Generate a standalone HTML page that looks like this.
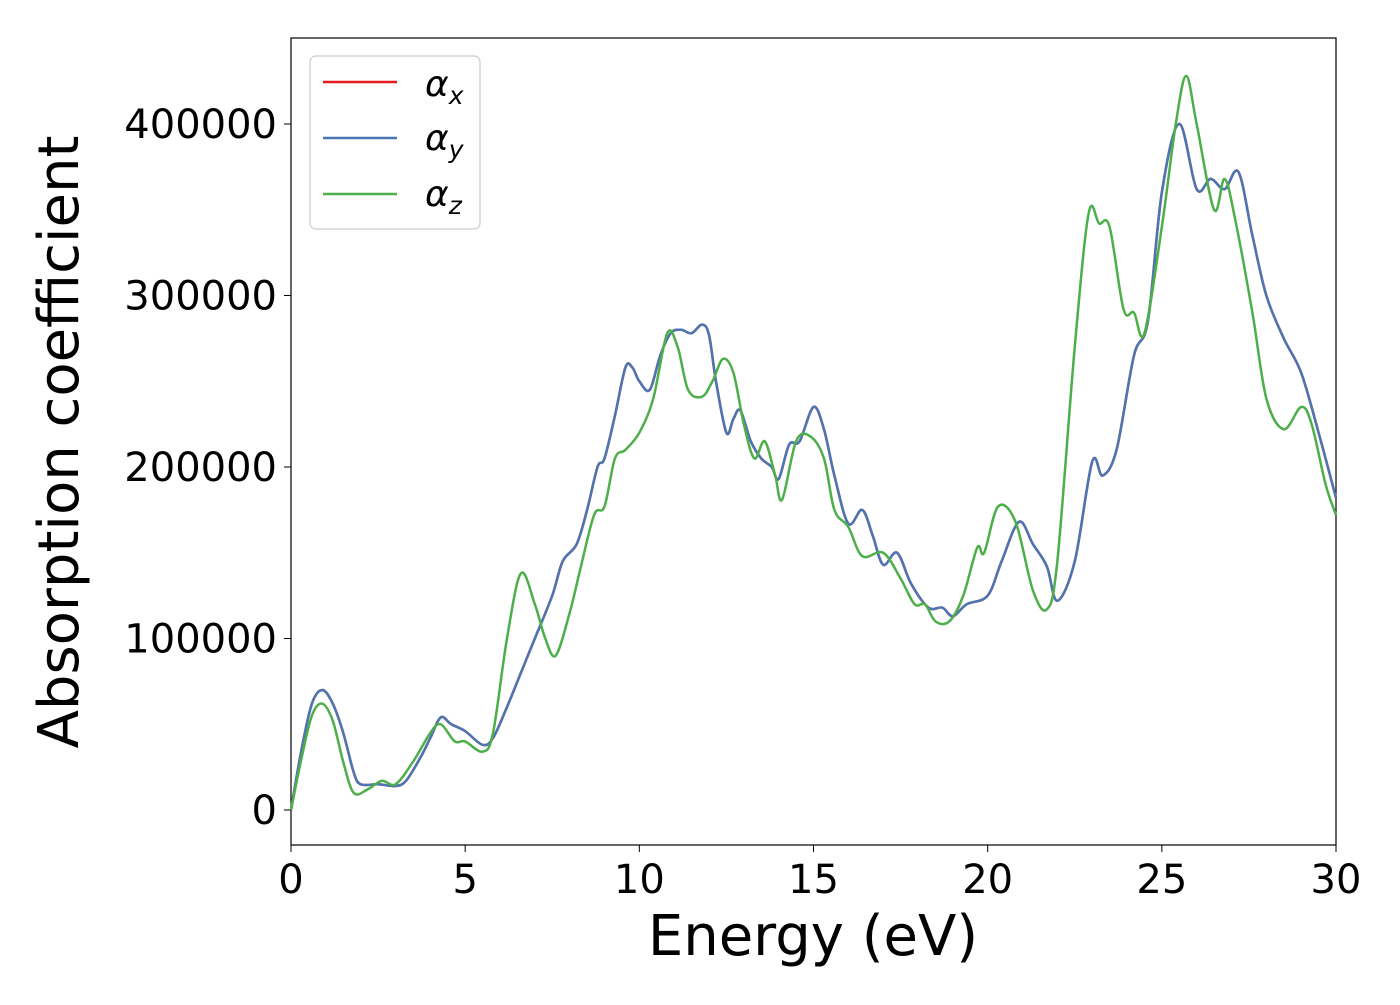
<!DOCTYPE html>
<html><head><meta charset="utf-8"><style>
body{margin:0;background:#fff}
svg text{font-family:"DejaVu Sans","Liberation Sans",sans-serif;fill:#000}
</style></head><body>
<svg id="chart" width="1400" height="1000" xmlns="http://www.w3.org/2000/svg">
<rect x="291" y="38" width="1045" height="807" fill="#fff" stroke="#000" stroke-width="1.2"/>
<g id="xticks"></g>
<g id="yticks"></g>
<g id="series"></g>
<text x="813" y="955" font-size="56" text-anchor="middle">Energy (eV)</text>
<text transform="translate(78,442) rotate(-90)" font-size="56" text-anchor="middle">Absorption coefficient</text>
<g>
<rect x="310" y="56" width="170" height="173" rx="6" fill="#fff" stroke="#ccc" stroke-width="1.2"/>
<line x1="323" y1="82" x2="397" y2="82" stroke="#e41a1c" stroke-width="2.5"/>
<text x="425" y="96" font-size="36" font-style="italic">α<tspan font-size="25" dy="8">x</tspan></text>
<line x1="323" y1="138" x2="397" y2="138" stroke="#4a77b4" stroke-width="2.5"/>
<text x="425" y="150" font-size="36" font-style="italic">α<tspan font-size="25" dy="8">y</tspan></text>
<line x1="323" y1="194" x2="397" y2="194" stroke="#4daf4a" stroke-width="2.5"/>
<text x="425" y="206" font-size="36" font-style="italic">α<tspan font-size="25" dy="8">z</tspan></text>
</g>
</svg>
<script>
const xTicks=[0,5,10,15,20,25,30];
const yTicks=[0,100000,200000,300000,400000];
const energyXY=[0,0.3,0.6,0.9,1.2,1.5,1.8,2.0,2.5,3.0,3.3,3.7,4.0,4.3,4.6,5.0,5.5,5.8,6.2,6.6,7.0,7.5,7.8,8.2,8.5,8.8,9.0,9.3,9.6,9.8,10.0,10.3,10.6,10.9,11.2,11.5,11.8,12.0,12.2,12.5,12.7,12.9,13.2,13.5,13.8,14.0,14.3,14.6,15.0,15.3,15.6,16.0,16.4,16.7,17.0,17.4,17.8,18.3,18.7,19.0,19.4,20.0,20.4,20.9,21.3,21.7,22.0,22.5,23.0,23.3,23.7,24.2,24.6,25.0,25.5,26.0,26.4,26.8,27.2,27.6,28.0,28.5,29.0,29.5,30];
const alphaY=[0,35000,62000,70000,62000,45000,22000,15000,15000,14000,17000,30000,42000,54000,50000,46000,38000,42000,60000,80000,100000,125000,145000,155000,175000,200000,205000,230000,258000,258000,250000,245000,265000,278000,280000,278000,283000,277000,250000,220000,228000,233000,215000,205000,200000,193000,213000,215000,235000,222000,195000,167000,175000,160000,143000,150000,132000,118000,118000,113000,120000,125000,145000,168000,155000,142000,122000,145000,203000,195000,210000,265000,285000,360000,400000,362000,368000,362000,372000,335000,300000,275000,255000,220000,182000];
const alphaX=alphaY.slice();
const energyZ=[0,0.3,0.6,0.9,1.2,1.5,1.8,2.2,2.6,3.0,3.5,4.0,4.3,4.7,5.0,5.5,5.8,6.2,6.6,7.0,7.3,7.6,8.0,8.3,8.7,9.0,9.3,9.6,10.0,10.4,10.8,11.1,11.4,11.8,12.1,12.4,12.7,13.0,13.3,13.6,13.9,14.1,14.5,14.9,15.3,15.6,16.0,16.4,17.0,17.5,17.9,18.2,18.5,18.9,19.3,19.7,19.9,20.3,20.8,21.3,21.7,22.0,22.5,22.9,23.2,23.5,23.9,24.2,24.5,25.0,25.4,25.7,26.0,26.5,26.8,27.1,27.6,28.0,28.5,29.0,29.3,29.7,30];
const alphaZ=[0,30000,55000,62000,52000,28000,10000,12000,17000,15000,28000,45000,50000,40000,40000,34000,45000,100000,138000,120000,100000,90000,115000,140000,172000,177000,205000,210000,220000,240000,278000,270000,245000,241000,250000,263000,255000,225000,205000,215000,195000,181000,215000,218000,205000,175000,165000,148000,150000,135000,120000,120000,110000,110000,125000,153000,150000,177000,168000,128000,117000,145000,270000,348000,342000,340000,292000,290000,278000,340000,400000,428000,400000,350000,368000,345000,290000,240000,222000,235000,225000,190000,172000];
const X0=291,X1=1336,Y0=810,PPY=171.5/100000;
const sx=v=>X0+(v/30)*(X1-X0);
const sy=v=>Y0-v*PPY;
const NS="http://www.w3.org/2000/svg";
const xg=document.getElementById('xticks'),yg=document.getElementById('yticks'),sg=document.getElementById('series');
xTicks.forEach(t=>{
 const l=document.createElementNS(NS,'line');
 
 
 l.setAttribute('x1',sx(t));l.setAttribute('x2',sx(t));l.setAttribute('y1',845);l.setAttribute('y2',852);l.setAttribute('stroke','#000');
 xg.appendChild(l);
 const tx=document.createElementNS(NS,'text');
 
 
 tx.setAttribute('x',sx(t));tx.setAttribute('y',893);tx.setAttribute('font-size','40');tx.setAttribute('text-anchor','middle');
 tx.textContent=t;xg.appendChild(tx);
});
yTicks.forEach(t=>{
 const l=document.createElementNS(NS,'line');
 
 
 l.setAttribute('x1',284);l.setAttribute('x2',291);l.setAttribute('y1',sy(t));l.setAttribute('y2',sy(t));l.setAttribute('stroke','#000');
 yg.appendChild(l);
 const tx=document.createElementNS(NS,'text');
 
 
 tx.setAttribute('x',277);tx.setAttribute('y',sy(t)+14);tx.setAttribute('font-size','40');tx.setAttribute('text-anchor','end');
 tx.textContent=t;yg.appendChild(tx);
});
function pathFor(xs,ys){
 const p=xs.map((x,i)=>[sx(x),sy(ys[i])]);
 let d='M'+p[0][0]+','+p[0][1];
 for(let i=0;i<p.length-1;i++){
  const a=p[Math.max(i-1,0)],b=p[i],c=p[i+1],e=p[Math.min(i+2,p.length-1)];
  const c1=[b[0]+(c[0]-a[0])/6,b[1]+(c[1]-a[1])/6],c2=[c[0]-(e[0]-b[0])/6,c[1]-(e[1]-b[1])/6];
  d+=' C'+c1[0]+','+c1[1]+' '+c2[0]+','+c2[1]+' '+c[0]+','+c[1];
 }
 return d;
}
[[energyXY,alphaX,'#e41a1c','series-alpha-x'],[energyXY,alphaY,'#4a77b4','series-alpha-y'],[energyZ,alphaZ,'#4daf4a','series-alpha-z']].forEach(s=>{
 const p=document.createElementNS(NS,'path');
 
 
 p.setAttribute('d',pathFor(s[0],s[1]));p.setAttribute('fill','none');p.setAttribute('stroke',s[2]);p.setAttribute('stroke-width','2.5');
 sg.appendChild(p);
});
</script>
</body></html>
